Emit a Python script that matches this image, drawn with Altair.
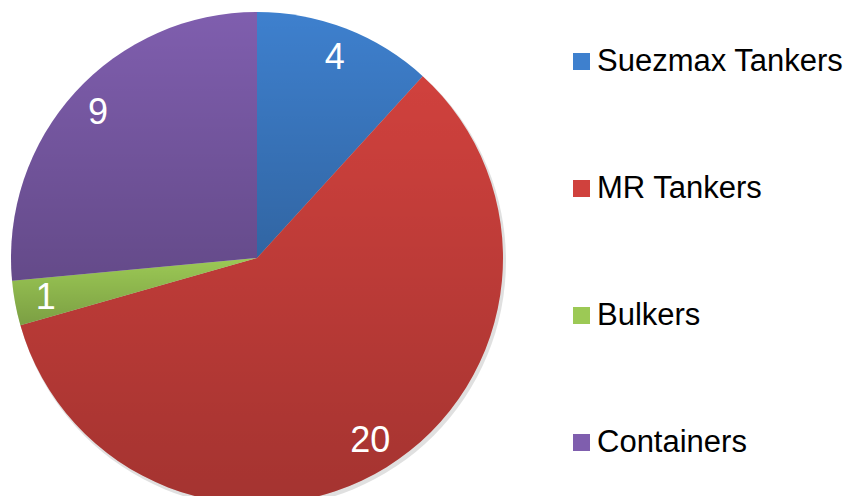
import math
import altair as alt
import pandas as pd

categories = ["Suezmax Tankers", "MR Tankers", "Bulkers", "Containers"]
values = [4, 20, 1, 9]
colors = ["#3E80CE", "#D0413D", "#9CC955", "#7F5EAE"]

df = pd.DataFrame({"category": categories, "value": values, "order": list(range(len(values)))})

CX, CY, R = 249, 250, 246

base = alt.Chart(df).encode(
    theta=alt.Theta("value:Q", stack=True),
    order=alt.Order("order:Q"),
    x=alt.value(CX),
    y=alt.value(CY),
)

shadow = alt.Chart(pd.DataFrame({"a": [0]})).mark_arc(
    radius=R + 1, theta=0, theta2=2 * math.pi, fill="#000000", opacity=0.12, strokeWidth=0
).encode(x=alt.value(CX + 2), y=alt.value(CY + 3))

pie = base.mark_arc(radius=R, strokeWidth=0).encode(
    color=alt.Color(
        "category:N",
        sort=categories,
        scale=alt.Scale(domain=categories, range=colors),
        legend=alt.Legend(
            orient="none",
            legendX=558,
            legendY=38,
            title=None,
            symbolType="square",
            symbolSize=289,
            symbolStrokeWidth=0,
            labelFontSize=31,
            labelFont="Liberation Sans",
            labelColor="#000000",
            labelOffset=0,
            rowPadding=95,
            padding=0,
            labelLimit=400,
        ),
    )
)

# per-slice vertical shading (each arc gets its own bounding-box gradient)
shade = base.mark_arc(
    radius=R,
    strokeWidth=0,
    fill=alt.Gradient(
        gradient="linear",
        x1=0, x2=0, y1=0, y2=1,
        stops=[
            alt.GradientStop(color="rgba(0,0,0,0)", offset=0),
            alt.GradientStop(color="rgba(0,0,0,0.21)", offset=1),
        ],
    ),
)

labels = base.mark_text(
    radius=215, fontSize=36, font="Liberation Sans", color="#FFFFFF"
).encode(text="value:Q")

chart = alt.layer(shadow, pie, shade, labels).properties(
    width=842, height=488, padding=0, autosize=alt.AutoSizeParams(type="none")
).configure_view(strokeWidth=0)

chart.save("out.html", embed_options={"renderer": "svg", "actions": False})
